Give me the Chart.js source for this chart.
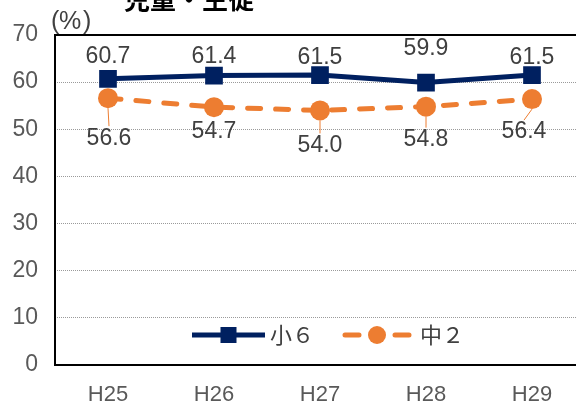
<!DOCTYPE html>
<html>
<head>
<meta charset="utf-8">
<script src="https://cdn.jsdelivr.net/npm/chart.js@4/dist/chart.umd.min.js"></script>
<style>
  html, body { margin: 0; padding: 0; overflow: hidden; background: #fff; }
  canvas { display: block; }
</style>
</head>
<body>
<canvas id="c" width="600" height="403"></canvas>
<script>
// Survey years and rates (%) for elementary 6th grade and junior high 2nd grade
const categories = ['H25', 'H26', 'H27', 'H28', 'H29'];
const elementary6 = [60.7, 61.4, 61.5, 59.9, 61.5];
const juniorHigh2 = [56.6, 54.7, 54.0, 54.8, 56.4];
const seriesNames = ['小６', '中２'];
const yTicks = [0, 10, 20, 30, 40, 50, 60, 70];

const NAVY = '#002060';
const ORANGE = '#ED7D31';
const LABEL_FONT = '23px "Liberation Sans", Arial, sans-serif';

// Label placement (pixel offsets from each point)
const labelOffsets = [
  [[0, -22], [0, -19], [0, -17], [0, -34], [0, -17]],
  [[1, 40], [0, 25], [0, 35], [0, 33], [-8, 33]]
];

const decorPlugin = {
  id: 'decor',
  afterDatasetsDraw(chart) {
    const ctx = chart.ctx;
    const area = chart.chartArea;
    ctx.save();

    // value labels with leader lines for the lower series
    chart.data.datasets.forEach((ds, di) => {
      const meta = chart.getDatasetMeta(di);
      meta.data.forEach((pt, i) => {
        const [dx, dy] = labelOffsets[di][i];
        const lx = pt.x + dx, ly = pt.y + dy;
        if (di === 1) {
          const top = ly - 12;
          const start = pt.y + 10;
          if (top - start > 4) {
            ctx.strokeStyle = ORANGE;
            ctx.lineWidth = 1;
            ctx.setLineDash([]);
            ctx.beginPath();
            ctx.moveTo(pt.x, start);
            ctx.lineTo(lx, top);
            ctx.stroke();
          }
        }
        ctx.fillStyle = '#404040';
        ctx.font = LABEL_FONT;
        ctx.textAlign = 'center';
        ctx.textBaseline = 'middle';
        ctx.fillText(ds.data[i].toFixed(1), lx, ly);
      });
    });

    // plot frame
    ctx.strokeStyle = '#000';
    ctx.lineWidth = 2;
    ctx.setLineDash([]);
    ctx.strokeRect(area.left, area.top, area.right - area.left, area.bottom - area.top);

    // in-plot legend
    const ly = area.bottom - 30;
    const x0 = area.left + 137;
    ctx.lineCap = 'butt';
    ctx.strokeStyle = NAVY;
    ctx.lineWidth = 5;
    ctx.beginPath();
    ctx.moveTo(x0, ly);
    ctx.lineTo(x0 + 73, ly);
    ctx.stroke();
    ctx.fillStyle = NAVY;
    ctx.fillRect(x0 + 36.5 - 8, ly - 8, 16, 16);
    ctx.fillStyle = '#404040';
    ctx.font = '22px "Noto Sans CJK JP", sans-serif';
    ctx.textAlign = 'left';
    ctx.textBaseline = 'middle';
    ctx.fillText(seriesNames[0], x0 + 78, ly);

    const x1 = area.left + 287;
    ctx.strokeStyle = ORANGE;
    ctx.lineCap = 'round';
    ctx.beginPath();
    ctx.moveTo(x1 + 3, ly);
    ctx.lineTo(x1 + 17, ly);
    ctx.moveTo(x1 + 53, ly);
    ctx.lineTo(x1 + 67, ly);
    ctx.stroke();
    ctx.fillStyle = ORANGE;
    ctx.beginPath();
    ctx.arc(x1 + 35, ly, 9, 0, Math.PI * 2);
    ctx.fill();
    ctx.fillStyle = '#404040';
    ctx.fillText(seriesNames[1], x1 + 78, ly);

    // unit and title text above the plot
    ctx.fillStyle = '#404040';
    ctx.font = '25px "Liberation Sans", Arial, sans-serif';
    ctx.textAlign = 'left';
    ctx.textBaseline = 'alphabetic';
    ctx.fillText('(', 51, 29);
    ctx.fillText('%', 59, 29);
    ctx.fillText(')', 83, 29);
    ctx.fillStyle = '#000';
    ctx.font = 'bold 26px "Noto Sans CJK JP", sans-serif';
    ctx.textAlign = 'center';
    ctx.fillText('児童・生徒', 189, 9);
    ctx.restore();
  }
};

new Chart(document.getElementById('c'), {
  type: 'line',
  data: {
    labels: categories,
    datasets: [
      {
        label: seriesNames[0],
        data: elementary6,
        borderColor: NAVY,
        backgroundColor: NAVY,
        borderWidth: 5,
        pointStyle: 'rect',
        pointRadius: 12.5,
        pointHoverRadius: 12.5,
        pointBorderWidth: 0,
        tension: 0
      },
      {
        label: seriesNames[1],
        data: juniorHigh2,
        borderColor: ORANGE,
        backgroundColor: ORANGE,
        borderWidth: 5,
        borderDash: [13, 15],
        borderCapStyle: 'round',
        pointStyle: 'circle',
        pointRadius: 10,
        pointHoverRadius: 10,
        pointBorderWidth: 0,
        tension: 0
      }
    ]
  },
  options: {
    responsive: false,
    animation: false,
    events: [],
    layout: { padding: { top: 35, left: 0, right: 15, bottom: 0 } },
    plugins: { legend: { display: false }, tooltip: { enabled: false } },
    scales: {
      x: {
        offset: true,
        grid: { display: false, drawTicks: false },
        border: { display: false },
        ticks: {
          color: '#595959',
          font: { family: '"Liberation Sans", Arial, sans-serif', size: 22 },
          padding: 17,
          maxRotation: 0
        },
        afterFit(s) { s.height = 38; }
      },
      y: {
        min: 0,
        max: 70,
        afterBuildTicks(s) { s.ticks = yTicks.map(v => ({ value: v })); },
        grid: { color: '#9a9a9a', lineWidth: 1, drawTicks: false },
        border: { display: false, dash: [1, 1] },
        ticks: {
          color: '#595959',
          font: { family: '"Liberation Sans", Arial, sans-serif', size: 23 },
          padding: 17
        },
        afterFit(s) { s.width = 55; }
      }
    }
  },
  plugins: [decorPlugin]
});
</script>
</body>
</html>
